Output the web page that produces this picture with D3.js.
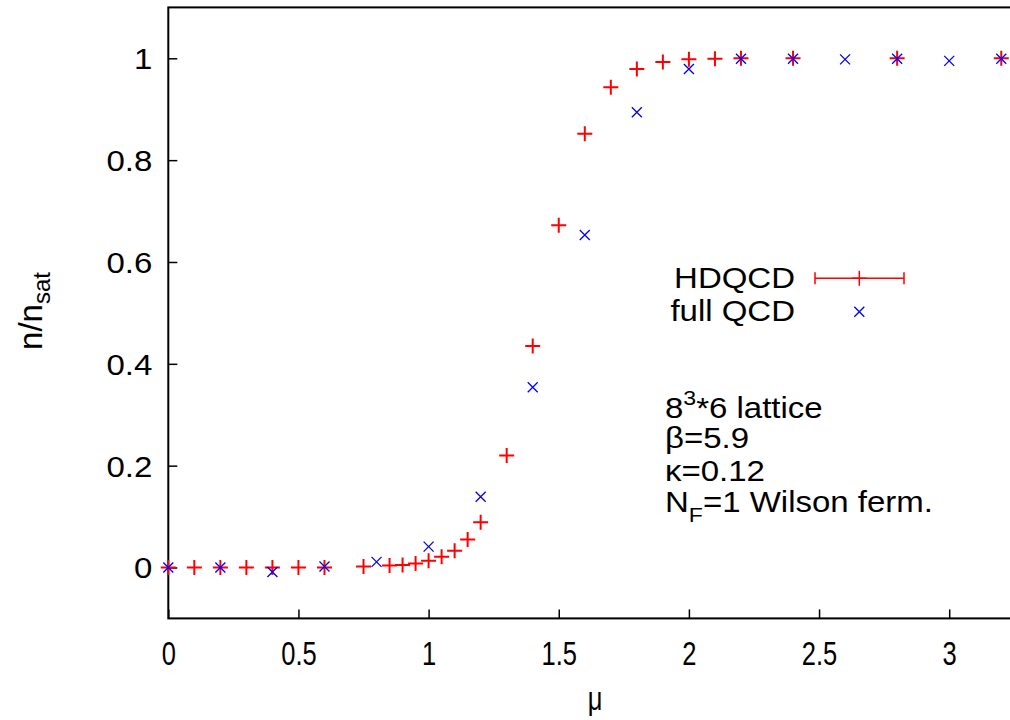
<!DOCTYPE html>
<html>
<head>
<meta charset="utf-8">
<script src="https://cdn.jsdelivr.net/npm/d3@7"></script>
<style>
  html, body { margin: 0; padding: 0; background: #fff; }
  svg { display: block; font-family: "Liberation Sans", Arial, Helvetica, sans-serif; }
</style>
</head>
<body>
<svg id="chart" width="1010" height="720"></svg>
<script>
// ---- data ----
const hdqcdMu = [0, 0.1, 0.2, 0.3, 0.4, 0.5, 0.6, 0.75, 0.85, 0.9, 0.95, 1.0, 1.05, 1.1, 1.15, 1.2, 1.3, 1.4, 1.5, 1.6, 1.7, 1.8, 1.9, 2.0, 2.1, 2.2, 2.4, 2.8, 3.2];
const hdqcdN  = [0, 0, 0, 0, 0, 0, 0, 0.002, 0.004, 0.005, 0.008, 0.013, 0.021, 0.033, 0.055, 0.089, 0.220, 0.435, 0.672, 0.852, 0.943, 0.979, 0.993, 0.998, 0.999, 1.0, 1.0, 1.0, 1.0];
const fullMu  = [0, 0.2, 0.4, 0.6, 0.8, 1.0, 1.2, 1.4, 1.6, 1.8, 2.0, 2.2, 2.4, 2.6, 2.8, 3.0, 3.2];
const fullN   = [0, 0, -0.009, 0.002, 0.011, 0.041, 0.139, 0.354, 0.653, 0.894, 0.979, 0.999, 0.999, 0.998, 0.999, 0.995, 0.999];
const xTicks = [0, 0.5, 1, 1.5, 2, 2.5, 3];
const yTicks = [0, 0.2, 0.4, 0.6, 0.8, 1];
const xDomain = [0, 3.3];
const yDomain = [-0.1, 1.1];

const svg = d3.select("#chart");
const mLeft = 168.3, mTop = 7.4, mBottom = 618.4;
const unitX = 260.3;
const x = d3.scaleLinear().domain(xDomain).range([mLeft, mLeft + unitX * (xDomain[1] - xDomain[0])]);
const y = d3.scaleLinear().domain(yDomain).range([mBottom, mTop]);

// frame
svg.append("rect")
  .attr("x", x(xDomain[0])).attr("y", y(yDomain[1]))
  .attr("width", x(xDomain[1]) - x(xDomain[0]))
  .attr("height", y(yDomain[0]) - y(yDomain[1]))
  .attr("fill", "none").attr("stroke", "#000").attr("stroke-width", 2);

// axes (ticks inward)
const xAxis = d3.axisBottom(x).tickValues(xTicks).tickSizeInner(-9).tickSizeOuter(0)
  .tickFormat(d3.format("~g"));
const gx = svg.append("g").attr("transform", `translate(0,${mBottom})`).call(xAxis);
gx.select(".domain").remove();
gx.selectAll(".tick line").attr("stroke", "#000").attr("stroke-width", 1.5);
gx.selectAll(".tick text")
  .attr("font-size", 34).attr("fill", "#000")
  .attr("y", 46.5).attr("dy", 0)
  .attr("transform", "scale(0.75,1)");

const yAxis = d3.axisLeft(y).tickValues(yTicks).tickSizeInner(-9).tickSizeOuter(0).tickPadding(16)
  .tickFormat(d3.format("~g"));
const gy = svg.append("g").attr("transform", `translate(${mLeft},0)`).call(yAxis);
gy.select(".domain").remove();
gy.selectAll(".tick line").attr("stroke", "#000").attr("stroke-width", 1.5);
gy.selectAll(".tick text").attr("font-size", 30).attr("fill", "#000").attr("dy", "0.35em")
  .attr("x", -16 / 1.1).attr("transform", "scale(1.1,1)");

// axis labels
svg.append("text").attr("transform", "translate(595,710) scale(0.75,1)").attr("text-anchor", "middle")
  .attr("font-size", 34).text("μ");
const yl = svg.append("text").attr("transform", "translate(42,311) rotate(-90)")
  .attr("text-anchor", "middle").attr("font-size", 33);
yl.append("tspan").text("n/n");
yl.append("tspan").attr("font-size", 24).attr("dy", 8).text("sat");

// markers
function plus(g, cx, cy, s) {
  g.append("path").attr("d", `M${cx - s},${cy}H${cx + s}M${cx},${cy - s}V${cy + s}`);
}
function cross(g, cx, cy, s) {
  g.append("path").attr("d", `M${cx - s},${cy - s}L${cx + s},${cy + s}M${cx - s},${cy + s}L${cx + s},${cy - s}`);
}

const gRed = svg.append("g").attr("stroke", "#ff0000").attr("stroke-width", 2).attr("fill", "none");
hdqcdMu.forEach((m, i) => plus(gRed, x(m), y(hdqcdN[i]), 7.5));

const gBlue = svg.append("g").attr("stroke", "#0000ff").attr("stroke-width", 1.3).attr("fill", "none");
fullMu.forEach((m, i) => cross(gBlue, x(m), y(fullN[i]), 5));

// legend
const lg = svg.append("g").attr("font-size", 30);
lg.append("text").attr("transform", "translate(795,288) scale(1.1,1)").attr("text-anchor", "end").text("HDQCD");
lg.append("text").attr("transform", "translate(795,321) scale(1.1,1)").attr("text-anchor", "end").text("full QCD");
const lr = lg.append("g").attr("stroke", "#ff0000").attr("stroke-width", 1.5).attr("fill", "none");
lr.append("path").attr("d", "M815,278.3H904M815,272.3V284.3M904,272.3V284.3");
plus(lr, 859.3, 278.3, 7.5);
const lb = lg.append("g").attr("stroke", "#0000ff").attr("stroke-width", 1.3).attr("fill", "none");
cross(lb, 859.3, 311.7, 5);

// annotation
const ann = svg.append("g").attr("font-size", 30).attr("transform", "translate(665,0) scale(1.1,1)");
const t1 = ann.append("text").attr("x", 0).attr("y", 418);
t1.append("tspan").text("8");
t1.append("tspan").attr("font-size", 21).attr("dy", -13).text("3");
t1.append("tspan").attr("dy", 13).text("*6 lattice");
ann.append("text").attr("x", 0).attr("y", 448).text("β=5.9");
ann.append("text").attr("x", 0).attr("y", 481).text("κ=0.12");
const t4 = ann.append("text").attr("x", 0).attr("y", 512);
t4.append("tspan").text("N");
t4.append("tspan").attr("font-size", 21).attr("dy", 10).text("F");
t4.append("tspan").attr("dy", -10).text("=1 Wilson ferm.");
</script>
</body>
</html>
